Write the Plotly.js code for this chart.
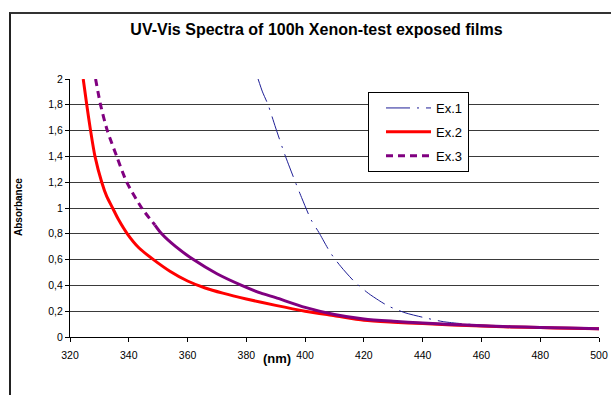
<!DOCTYPE html>
<html>
<head>
<meta charset="utf-8">
<script src="https://cdn.plot.ly/plotly-3.0.1.min.js"></script>
<style>
  html, body { margin:0; padding:0; background:#fff; overflow:hidden; }
  #wrap { position:relative; width:611px; height:395px; }
  #chart { position:absolute; left:0; top:0; width:611px; height:395px; }
  #frame { position:absolute; left:9px; top:12px; width:700px; height:500px;
           border-left:2px solid #222; border-top:2px solid #333; pointer-events:none; }
</style>
</head>
<body>
<div id="wrap">
  <div id="chart"></div>
  <div id="frame"></div>
</div>
<script>
// Ex.1 (thin navy dash-dot)
const ex1_nm  = [384, 385.5, 387.4, 390, 393, 396.7, 399, 402, 404.7, 408.7, 412.2, 417, 421.5, 425, 428.3, 434, 440, 447, 455, 465, 475, 485, 500];
const ex1_abs = [2.0, 1.9, 1.8, 1.62, 1.42, 1.2, 1.07, 0.91, 0.81, 0.65, 0.545, 0.424, 0.339, 0.285, 0.24, 0.188, 0.153, 0.119, 0.1, 0.087, 0.078, 0.072, 0.064];

// Ex.2 (thick red)
const ex2_nm  = [324.5, 325.7, 327.0, 328.5, 330.8, 332.5, 334.5, 336.5, 339.5, 343.5, 348.4, 354, 360, 366, 372, 380, 390, 400, 410, 420, 430, 440, 450, 460, 470, 480, 490, 500];
const ex2_abs = [2.0, 1.8, 1.6, 1.4, 1.2, 1.09, 1.0, 0.91, 0.8, 0.69, 0.6, 0.51, 0.434, 0.38, 0.34, 0.295, 0.245, 0.2, 0.165, 0.13, 0.115, 0.104, 0.093, 0.085, 0.078, 0.073, 0.068, 0.064];

// Ex.3 (purple dashed)
const ex3_nm  = [328.7, 330.4, 332.7, 335.9, 339.3, 344.4, 348.9, 351.2, 356, 362, 370, 378.4, 385, 390, 400, 410, 420, 430, 440, 450, 460, 470, 480, 490, 500];
const ex3_abs = [2.0, 1.8, 1.6, 1.4, 1.2, 1.0, 0.868, 0.8, 0.7, 0.6, 0.49, 0.4, 0.34, 0.305, 0.23, 0.175, 0.14, 0.122, 0.108, 0.097, 0.088, 0.08, 0.074, 0.069, 0.064];

const seriesNames = ['Ex.1', 'Ex.2', 'Ex.3'];
const chartTitle = 'UV-Vis Spectra of 100h Xenon-test exposed films';
const xTitle = '(nm)';
const yTitle = 'Absorbance';

// the dashed look of Ex.3 only shows on its steep upper part (dense data below looks solid)
const split = 6;
const FONT = 'Liberation Sans, Arial, sans-serif';
const SM = 0.7;

const traces = [
  { x: ex1_nm, y: ex1_abs, name: seriesNames[0], mode: 'lines', legendgroup: 'g1',
    line: { color: '#1e1e96', width: 1, dash: '24px,7px,2px,7px', shape: 'spline', smoothing: SM } },
  { x: ex2_nm, y: ex2_abs, name: seriesNames[1], mode: 'lines', legendgroup: 'g2',
    line: { color: '#ff0000', width: 3, shape: 'spline', smoothing: SM } },
  { x: ex3_nm.slice(0, split + 1), y: ex3_abs.slice(0, split + 1), name: seriesNames[2], mode: 'lines', legendgroup: 'g3',
    line: { color: '#800080', width: 3, dash: '7px,5px', shape: 'spline', smoothing: SM } },
  { x: ex3_nm.slice(split), y: ex3_abs.slice(split), name: seriesNames[2], mode: 'lines', legendgroup: 'g3',
    showlegend: false, line: { color: '#800080', width: 3, shape: 'spline', smoothing: SM } }
];

const layout = {
  width: 611, height: 395,
  margin: { l: 70, r: 12, t: 79, b: 58 },
  paper_bgcolor: 'rgba(0,0,0,0)',
  plot_bgcolor: '#ffffff',
  separators: ',.',
  font: { family: FONT, color: '#000', size: 10.5 },
  title: { text: '<b>' + chartTitle + '</b>', font: { family: FONT, size: 16, color: '#000' },
           x: 0.518, xanchor: 'center', y: 0.925, yanchor: 'middle' },
  xaxis: {
    range: [320, 500], dtick: 20, tick0: 320,
    showgrid: false, zeroline: false,
    showline: true, linecolor: '#000', linewidth: 1,
    ticks: 'outside', ticklen: 4, tickcolor: '#000',
    ticklabelstandoff: 4,
    tickfont: { family: FONT, size: 10.5, color: '#000' }
  },
  yaxis: {
    range: [0, 2], dtick: 0.2, tick0: 0,
    showgrid: true, gridcolor: '#3a3a3a', gridwidth: 1,
    zeroline: false,
    showline: true, linecolor: '#000', linewidth: 1,
    ticks: 'outside', ticklen: 4, tickcolor: '#000',
    tickfont: { family: FONT, size: 10.5, color: '#000' }
  },
  showlegend: true,
  legend: {
    x: (368 - 70) / 529, xanchor: 'left',
    y: (337 - 92) / 258, yanchor: 'top',
    bgcolor: '#ffffff', bordercolor: '#000', borderwidth: 1,
    font: { family: FONT, size: 13, color: '#000' },
    traceorder: 'grouped', tracegroupgap: 4,
    itemwidth: 45, indentation: 12
  },
  annotations: [
    { text: '<b>' + xTitle + '</b>', xref: 'paper', yref: 'paper',
      x: (277 - 70) / 529, y: (337 - 358) / 258, xanchor: 'center', yanchor: 'middle',
      showarrow: false, font: { family: FONT, size: 13, color: '#000' } },
    { text: '<b>' + yTitle + '</b>', xref: 'paper', yref: 'paper',
      x: (18 - 70) / 529, y: (337 - 207) / 258, xanchor: 'center', yanchor: 'middle',
      textangle: -90, showarrow: false, font: { family: FONT, size: 10, color: '#000' } }
  ]
};

Plotly.newPlot('chart', traces, layout, { displayModeBar: false, staticPlot: true });
</script>
</body>
</html>
